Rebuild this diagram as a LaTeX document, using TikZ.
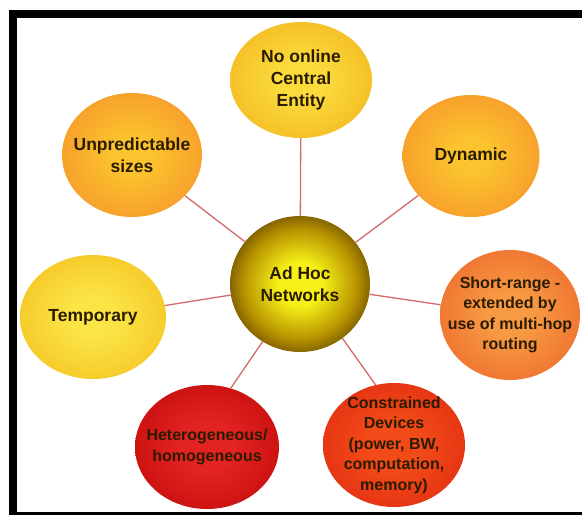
\documentclass[tikz,border=0pt]{standalone}
\usepackage{fontspec}
\setmainfont{Liberation Sans}
\usetikzlibrary{shapes.geometric}
\definecolor{topin}{HTML}{FBDB3C}
\definecolor{topout}{HTML}{F2B21C}
\definecolor{orin}{HTML}{FBC32E}
\definecolor{orout}{HTML}{F5902A}
\definecolor{tmpin}{HTML}{FBE446}
\definecolor{tmpout}{HTML}{F3BE1C}
\definecolor{cin}{HTML}{F6F018}
\definecolor{cmid}{HTML}{B89400}
\definecolor{cout}{HTML}{351C00}
\definecolor{shin}{HTML}{F79A44}
\definecolor{shout}{HTML}{EC6428}
\definecolor{hein}{HTML}{E32222}
\definecolor{heout}{HTML}{BE0A08}
\definecolor{coin}{HTML}{F24A18}
\definecolor{coout}{HTML}{DE2810}
\definecolor{linec}{HTML}{D46A6A}
\definecolor{txt}{HTML}{2B1B00}
\pgfdeclareradialshading{shTop}{\pgfpoint{0bp}{0bp}}{color(0bp)=(topin);color(8bp)=(topin);color(35bp)=(topout);color(100bp)=(topout)}
\pgfdeclareradialshading{shOr}{\pgfpoint{0bp}{0bp}}{color(0bp)=(orin);color(7bp)=(orin);color(35bp)=(orout);color(100bp)=(orout)}
\pgfdeclareradialshading{shTmp}{\pgfpoint{0bp}{0bp}}{color(0bp)=(tmpin);color(8bp)=(tmpin);color(35bp)=(tmpout);color(100bp)=(tmpout)}
\pgfdeclareradialshading{shC}{\pgfpoint{0bp}{0bp}}{color(0bp)=(cin);color(8bp)=(cin);color(20bp)=(cmid);color(33bp)=(cout);color(100bp)=(cout)}
\pgfdeclareradialshading{shSh}{\pgfpoint{0bp}{0bp}}{color(0bp)=(shin);color(8bp)=(shin);color(35bp)=(shout);color(100bp)=(shout)}
\pgfdeclareradialshading{shHe}{\pgfpoint{0bp}{0bp}}{color(0bp)=(hein);color(10bp)=(hein);color(35bp)=(heout);color(100bp)=(heout)}
\pgfdeclareradialshading{shCo}{\pgfpoint{0bp}{0bp}}{color(0bp)=(coin);color(10bp)=(coin);color(35bp)=(coout);color(100bp)=(coout)}
\tikzset{
  bub/.style={ellipse, inner sep=0pt},
  txtfont/.style={font=\fontsize{#1}{22}\selectfont\bfseries},
  btext/.style={label={[align=center, text=txt, inner sep=0pt, txtfont=17.5]center:#1}},
  stext/.style={label={[align=center, text=txt, inner sep=0pt, font=\fontsize{16}{20.5}\selectfont\bfseries]center:#1}},
  conn/.style={draw=linec, line width=1.3pt}
}
\begin{document}
\begin{tikzpicture}[x=1pt, y=-1pt]
\fill[white] (0,0) rectangle (582,515);
\useasboundingbox (0,0) rectangle (582,515);
\fill[black] (9,10) rectangle (582,18);
\fill[black] (9,10) rectangle (17,515);
\fill[black] (9,512) rectangle (582,515);

\node[bub, shading=shTop, minimum width=142pt, minimum height=116pt, btext={No online\\Central\\Entity}] (top) at (301,80) {};
\node[bub, shading=shOr, minimum width=140pt, minimum height=124pt, btext={Unpredictable\\sizes}] (unp) at (132,155) {};
\node[bub, shading=shOr, minimum width=137pt, minimum height=122pt, btext={Dynamic}] (dyn) at (471,156) {};
\node[bub, shading=shTmp, minimum width=146pt, minimum height=124pt, btext={Temporary}] (tmp) at (93,317) {};
\node[bub, shading=shC, minimum width=140pt, minimum height=136pt, btext={Ad Hoc\\Networks}] (c) at (300,284) {};
\node[bub, shading=shSh, minimum width=140pt, minimum height=130pt, stext={Short-range -\\extended by\\use of multi-hop\\routing}] (sh) at (510,315) {};
\node[bub, shading=shHe, minimum width=144pt, minimum height=124pt, stext={Heterogeneous/\\homogeneous}] (he) at (207,447) {};
\node[bub, shading=shCo, minimum width=142pt, minimum height=124pt, stext={Constrained\\Devices\\(power, BW,\\computation,\\memory)}] (co) at (394,445) {};

\draw[conn] (c) -- (top);
\draw[conn] (c) -- (unp);
\draw[conn] (c) -- (dyn);
\draw[conn] (c) -- (tmp);
\draw[conn] (c) -- (sh);
\draw[conn] (c.-123) -- (he.68);
\draw[conn] (c.-52) -- (co.107);
\end{tikzpicture}
\end{document}
